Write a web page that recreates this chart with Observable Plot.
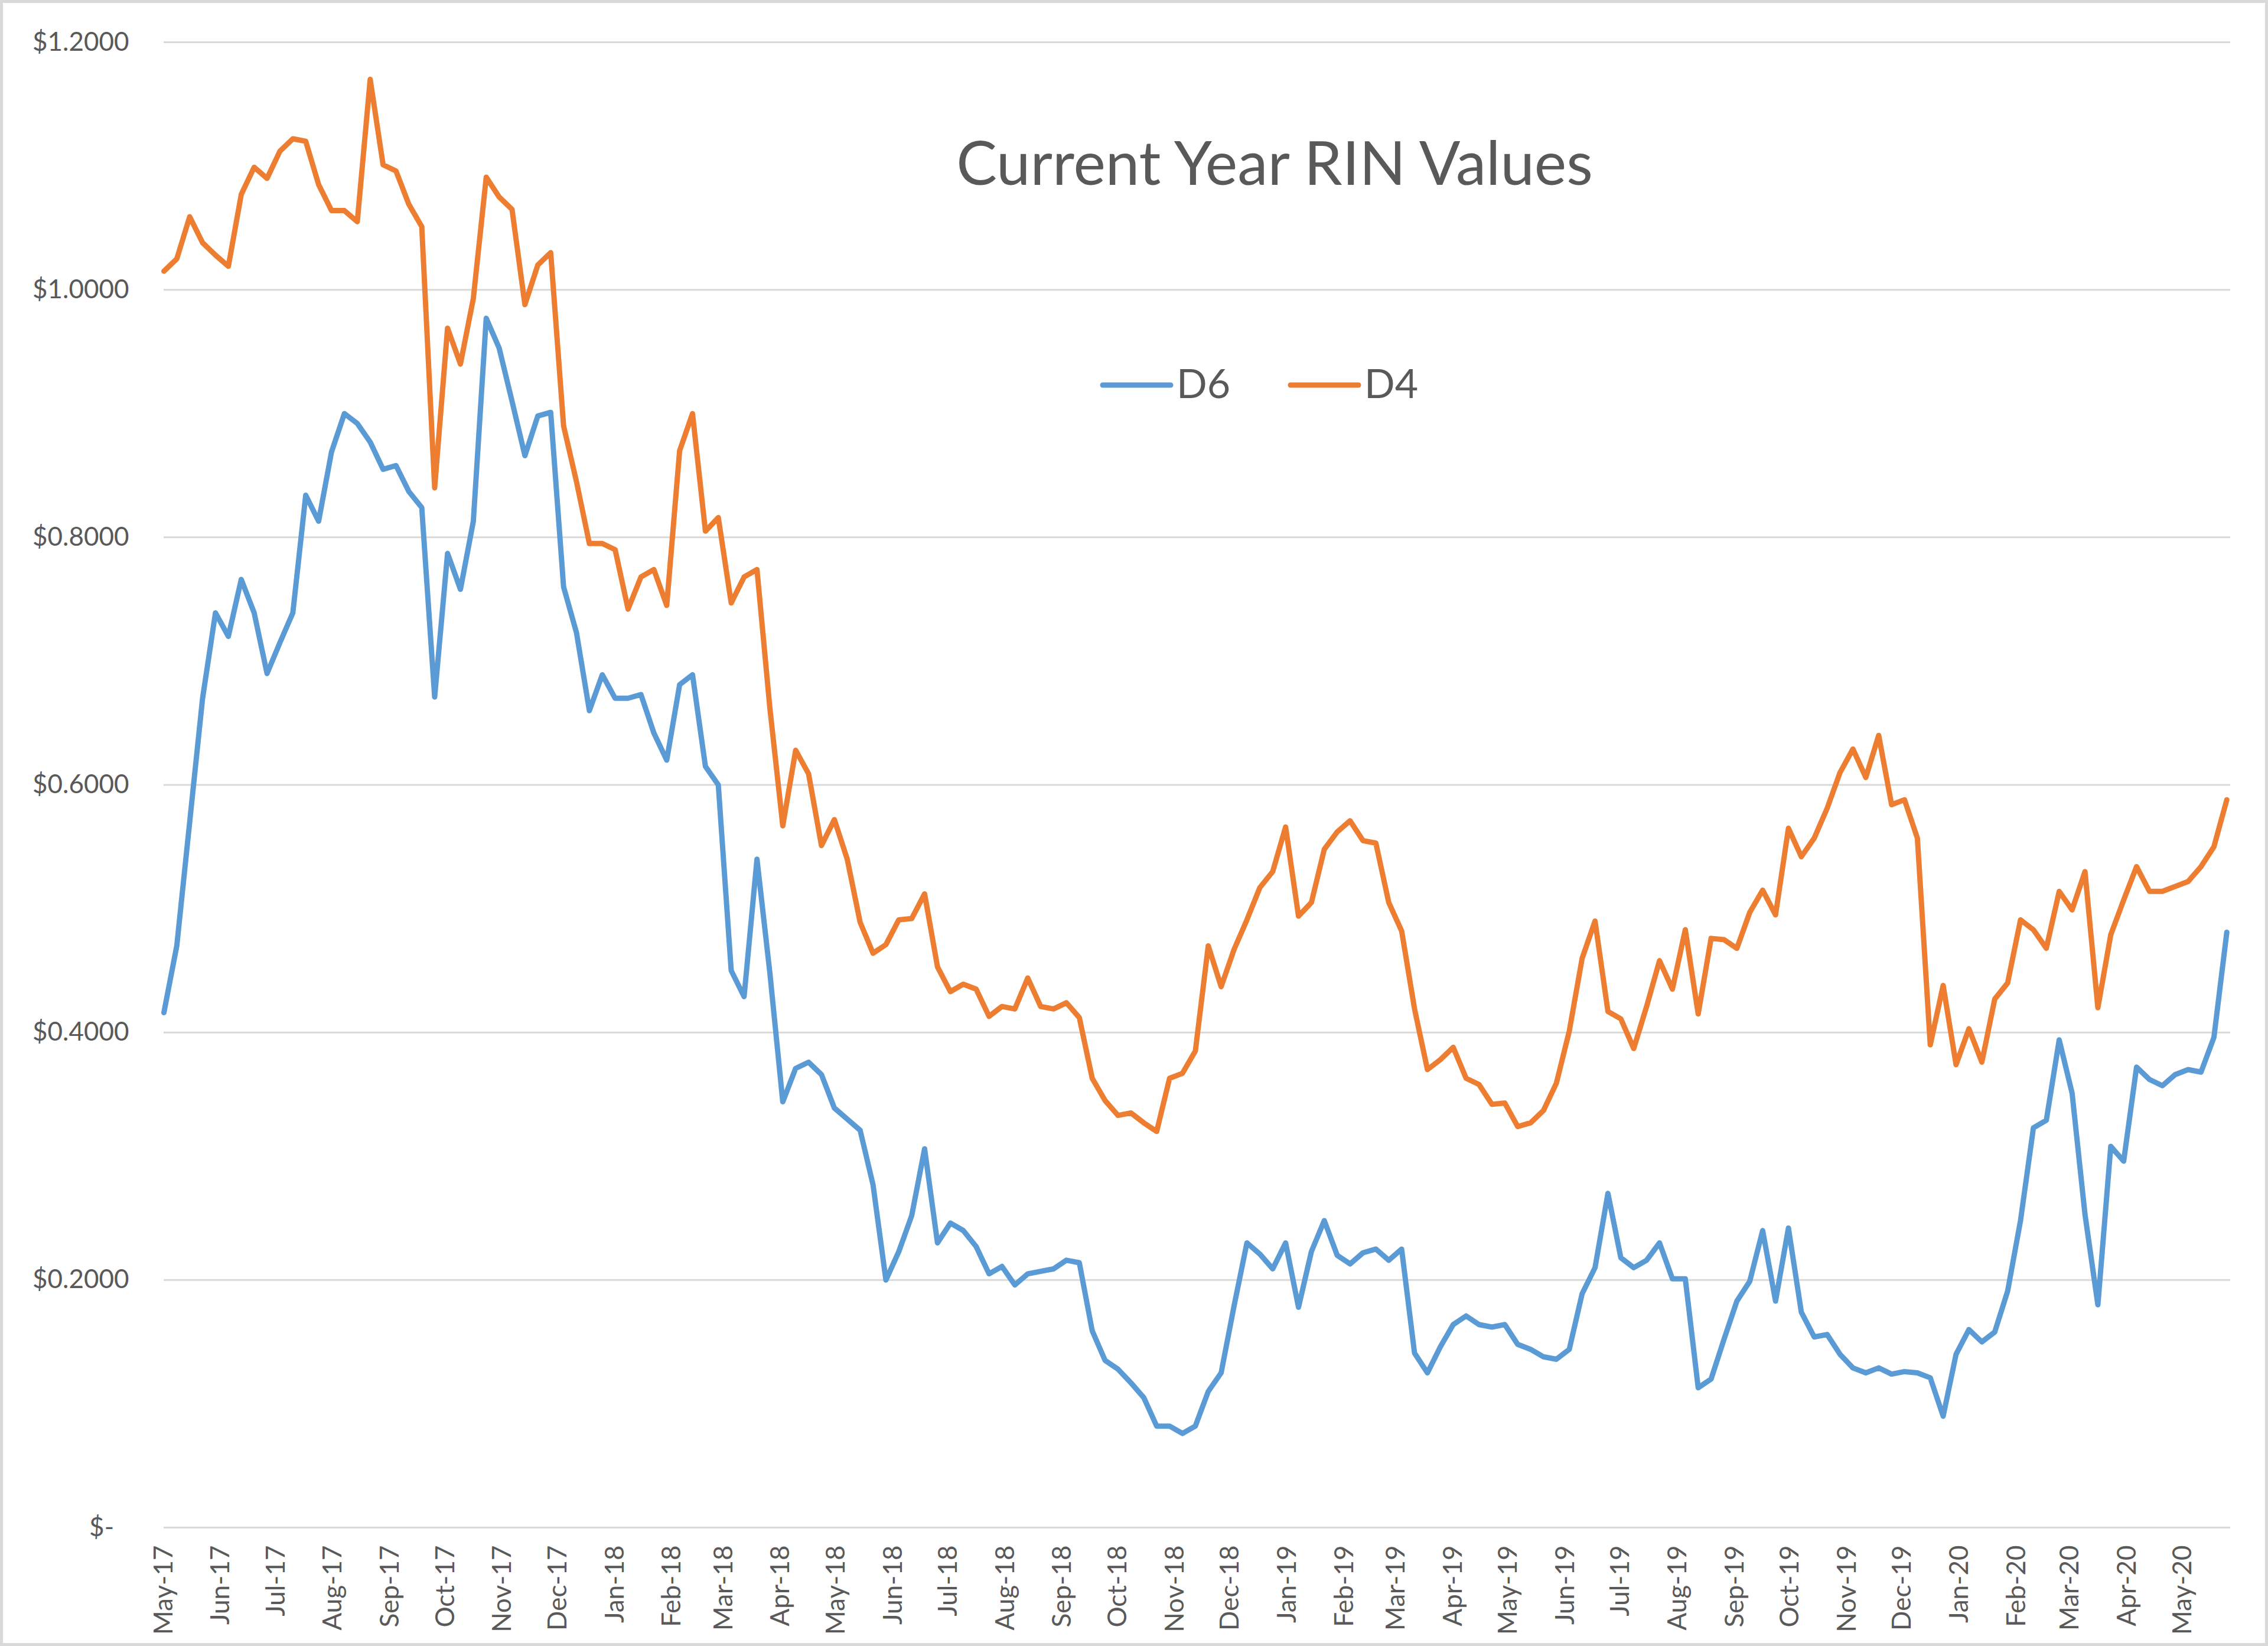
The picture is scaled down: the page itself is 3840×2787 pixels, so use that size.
<!DOCTYPE html>
<html>
<head>
<meta charset="utf-8">
<script src="https://cdn.jsdelivr.net/npm/d3@7"></script>
<script src="https://cdn.jsdelivr.net/npm/@observablehq/plot@0.6"></script>
<style>
  html, body { margin: 0; padding: 0; background: #fff; }
  #wrap { position: relative; width: 3840px; height: 2787px; overflow: hidden; background: #fff; }
  #wrap > svg { position: absolute; left: 0; top: 0; }
  #frame { position: absolute; left: 0; top: 0; width: 3840px; height: 2787px; box-sizing: border-box; border: 5px solid #d9d9d9; pointer-events: none; }
</style>
</head>
<body>
<div id="wrap"></div>
<script>
// Weekly readings, starting 2017-05-01 (one value per week)
const startDate = "2017-05-01";
const endDate = "2020-05-27";
const seriesNames = ["D6", "D4"];
const seriesColors = ["#5B9BD5", "#ED7D31"];
const titleText = "Current Year RIN Values";
const yTicks = [0, 0.2, 0.4, 0.6, 0.8, 1.0, 1.2];

const D6 = [
  0.416, 0.47, 0.57, 0.67, 0.739, 0.72, 0.766, 0.739, 0.69, 0.715,
  0.739, 0.834, 0.813, 0.869, 0.9, 0.892, 0.877, 0.855, 0.858, 0.837,
  0.824, 0.671, 0.787, 0.758, 0.813, 0.977, 0.953, 0.91, 0.866, 0.898,
  0.901, 0.76, 0.723, 0.66, 0.689, 0.67, 0.67, 0.673, 0.642, 0.62,
  0.681, 0.689, 0.615, 0.6, 0.45, 0.429, 0.54, 0.448, 0.344, 0.371,
  0.376, 0.366, 0.339, 0.33, 0.321, 0.277, 0.2, 0.223, 0.252, 0.306,
  0.23, 0.246, 0.24, 0.227, 0.205, 0.211, 0.196, 0.205, 0.207, 0.209,
  0.216, 0.214, 0.159, 0.135, 0.128, 0.117, 0.105, 0.082, 0.082, 0.076,
  0.082, 0.11, 0.125, 0.179, 0.23, 0.221, 0.209, 0.23, 0.178, 0.223,
  0.248, 0.22, 0.213, 0.222, 0.225, 0.216, 0.225, 0.141, 0.125, 0.146,
  0.164, 0.171, 0.164, 0.162, 0.164, 0.148, 0.144, 0.138, 0.136, 0.144,
  0.189, 0.21, 0.27, 0.218, 0.21, 0.216, 0.23, 0.201, 0.201, 0.113,
  0.12, 0.152, 0.183, 0.199, 0.24, 0.183, 0.242, 0.174, 0.154, 0.156,
  0.14, 0.129, 0.125, 0.129, 0.124, 0.126, 0.125, 0.121, 0.09, 0.14,
  0.16, 0.15, 0.158, 0.191, 0.248, 0.323, 0.329, 0.394, 0.351, 0.253,
  0.18, 0.308, 0.296, 0.372, 0.362, 0.357, 0.366, 0.37, 0.368, 0.396,
  0.481
];

const D4 = [
  1.015, 1.025, 1.059, 1.038, 1.028, 1.019, 1.077, 1.099, 1.09, 1.112,
  1.122, 1.12, 1.085, 1.064, 1.064, 1.055, 1.17, 1.101, 1.096, 1.069,
  1.051, 0.84, 0.969, 0.94, 0.993, 1.091, 1.075, 1.065, 0.988, 1.02,
  1.03, 0.89, 0.845, 0.795, 0.795, 0.79, 0.742, 0.768, 0.774, 0.745,
  0.87, 0.9, 0.805, 0.816, 0.747, 0.768, 0.774, 0.662, 0.567, 0.628,
  0.609, 0.551, 0.572, 0.54, 0.489, 0.464, 0.471, 0.491, 0.492, 0.512,
  0.453, 0.433, 0.439, 0.435, 0.413, 0.421, 0.419, 0.444, 0.421, 0.419,
  0.424, 0.412, 0.363, 0.345, 0.333, 0.335, 0.327, 0.32, 0.363, 0.367,
  0.385, 0.47, 0.437, 0.467, 0.491, 0.517, 0.53, 0.566, 0.494, 0.505,
  0.548, 0.562, 0.571, 0.555, 0.553, 0.505, 0.482, 0.419, 0.37, 0.378,
  0.388, 0.363, 0.358, 0.342, 0.343, 0.324, 0.327, 0.337, 0.359, 0.401,
  0.46, 0.49, 0.417, 0.411, 0.387, 0.421, 0.458, 0.435, 0.483, 0.415,
  0.476, 0.475, 0.468, 0.497, 0.515, 0.495, 0.565, 0.542, 0.557, 0.581,
  0.61, 0.629, 0.606, 0.64, 0.584, 0.588, 0.557, 0.39, 0.438, 0.374,
  0.403, 0.376, 0.427, 0.44, 0.491, 0.483, 0.468, 0.514, 0.499, 0.53,
  0.42, 0.479, 0.507, 0.534, 0.514, 0.514, 0.518, 0.522, 0.534, 0.55,
  0.588
];

const t0 = d3.utcParse("%Y-%m-%d")(startDate);
const t1 = d3.utcParse("%Y-%m-%d")(endDate);
const table = D6.map((v, i) => ({date: d3.utcDay.offset(t0, 7 * i), D6: v, D4: D4[i]}));
const monthTicks = d3.utcMonth.range(t0, d3.utcDay.offset(t1, 1));

const W = 3840, H = 2787;
const chart = Plot.plot({
  width: W,
  height: H,
  marginTop: 71,
  marginRight: 64,
  marginBottom: 201,
  marginLeft: 277,
  style: {fontFamily: "Lato, 'Open Sans', sans-serif", fontSize: "44px", color: "#595959", background: "#fff"},
  x: {type: "utc", domain: [t0, t1]},
  y: {domain: [0, 1.2]},
  marks: [
    Plot.gridY(yTicks, {stroke: "#d9d9d9", strokeOpacity: 1, strokeWidth: 3}),
    Plot.axisY({ticks: yTicks, tickSize: 0, tickPadding: 59, label: null,
      tickFormat: d => d === 0 ? "$-\u2007" : "$" + d.toFixed(4)}),
    Plot.axisX({ticks: monthTicks, tickSize: 0, tickPadding: 30, tickRotate: -90, label: null,
      tickFormat: d3.utcFormat("%b-%y")}),
    Plot.lineY(table, {x: "date", y: "D6", stroke: seriesColors[0], strokeWidth: 9, strokeLinejoin: "round", strokeLinecap: "round"}),
    Plot.lineY(table, {x: "date", y: "D4", stroke: seriesColors[1], strokeWidth: 9, strokeLinejoin: "round", strokeLinecap: "round"})
  ]
});
document.getElementById("wrap").appendChild(chart);

// Title and legend overlay (inside chart area, as in the original)
const ov = d3.select("#wrap").append("svg")
  .attr("width", W).attr("height", H)
  .style("font-family", "Lato, 'Open Sans', sans-serif");
ov.append("text")
  .attr("x", 2158).attr("y", 313)
  .attr("text-anchor", "middle")
  .attr("fill", "#595959")
  .attr("font-size", 103)
  .text(titleText);

const legendItems = [
  {name: seriesNames[0], color: seriesColors[0], x: 1867},
  {name: seriesNames[1], color: seriesColors[1], x: 2185}
];
const lg = ov.selectAll("g.leg").data(legendItems).join("g").attr("class", "leg");
lg.append("line")
  .attr("x1", d => d.x).attr("x2", d => d.x + 115)
  .attr("y1", 652).attr("y2", 652)
  .attr("stroke", d => d.color).attr("stroke-width", 9).attr("stroke-linecap", "round");
lg.append("text")
  .attr("x", d => d.x + 125).attr("y", 674)
  .attr("fill", "#595959").attr("font-size", 68)
  .text(d => d.name);

const frame = document.createElement("div");
frame.id = "frame";
document.getElementById("wrap").appendChild(frame);
</script>
</body>
</html>
